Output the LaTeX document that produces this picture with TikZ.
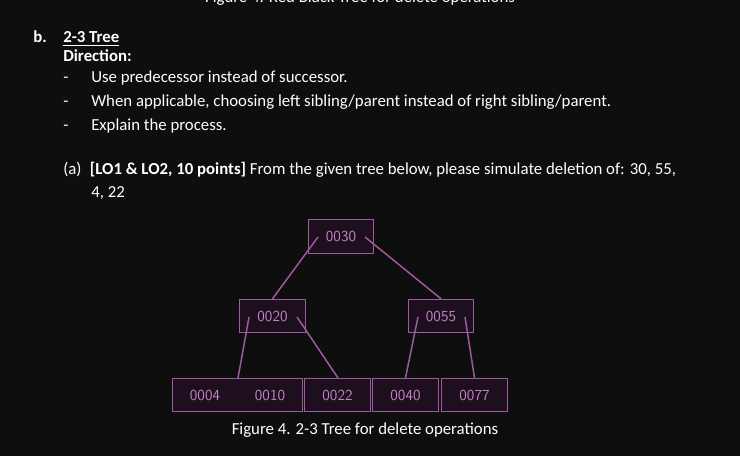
\documentclass[tikz,border=0pt]{standalone}
\usepackage{fontspec}
\setmainfont{Carlito}
\begin{document}
\begin{tikzpicture}[x=0.75pt,y=-0.75pt,
  txt/.style={anchor=base west,inner sep=0pt,text=white,font=\fontsize{12.6}{15}\selectfont},
  kfont/.style={text=keytext,font=\sffamily\fontsize{11.5}{13}\selectfont},
  key/.style={draw=boxline,fill=boxfill,line width=0.8pt,minimum width=49pt,minimum height=25pt,inner sep=0pt,kfont},
  edge/.style={draw=boxline,line width=1.1pt}]
\definecolor{bg}{HTML}{0E0E0E}
\definecolor{boxline}{HTML}{A05AA0}
\definecolor{boxfill}{HTML}{1E0F1E}
\definecolor{keytext}{HTML}{C585C5}
\clip (0,0) rectangle (740,456);
\fill[bg] (0,0) rectangle (740,456);
\node[txt,anchor=base] (top) at (360,3) {Figure 4. Red Black Tree for delete operations};
\node[txt] (b) at (33,43) {\textbf{b.}};
\node[txt] (h) at (63,43) {\textbf{\underline{2-3 Tree}}};
\node[txt] (d) at (63,62) {\textbf{Direction:}};
\node[txt] (d1) at (63,83) {-};
\node[txt] (t1) at (91,83) {Use predecessor instead of successor.};
\node[txt] (d2) at (63,107) {-};
\node[txt] (t2) at (91,107) {When applicable, choosing left sibling/parent instead of right sibling/parent.};
\node[txt] (d3) at (63,131) {-};
\node[txt] (t3) at (91,131) {Explain the process.};
\node[txt] (q1) at (63,175) {(a)\enspace\textbf{[LO1 \& LO2, 10 points]} From the given tree below, please simulate deletion of: 30, 55,};
\node[txt] (q2) at (91,198) {4, 22};
\node[key] (r) at (341,236.5) {0030};
\node[key] (a) at (272.5,316) {0020};
\node[key] (c) at (441,316) {0055};
\node[key,minimum width=97pt] (l1) at (237.5,395) {};
\node[kfont] (k4) at (205,395) {0004};
\node[kfont] (k10) at (270,395) {0010};
\node[key] (l2) at (337.5,395) {0022};
\node[key] (l3) at (405.5,395) {0040};
\node[key] (l4) at (474.5,395) {0077};
\draw[edge] (318,237) -- (a.north);
\draw[edge] (365,237) -- (c.north);
\draw[edge] (249,317) -- (238,378);
\draw[edge] (297,317) -- (338,378);
\draw[edge] (418,317) -- (l3.north);
\draw[edge] (465,317) -- (l4.north);
\node[txt,anchor=base] (cap) at (365,435) {Figure 4. 2-3 Tree for delete operations};
\end{tikzpicture}
\end{document}
